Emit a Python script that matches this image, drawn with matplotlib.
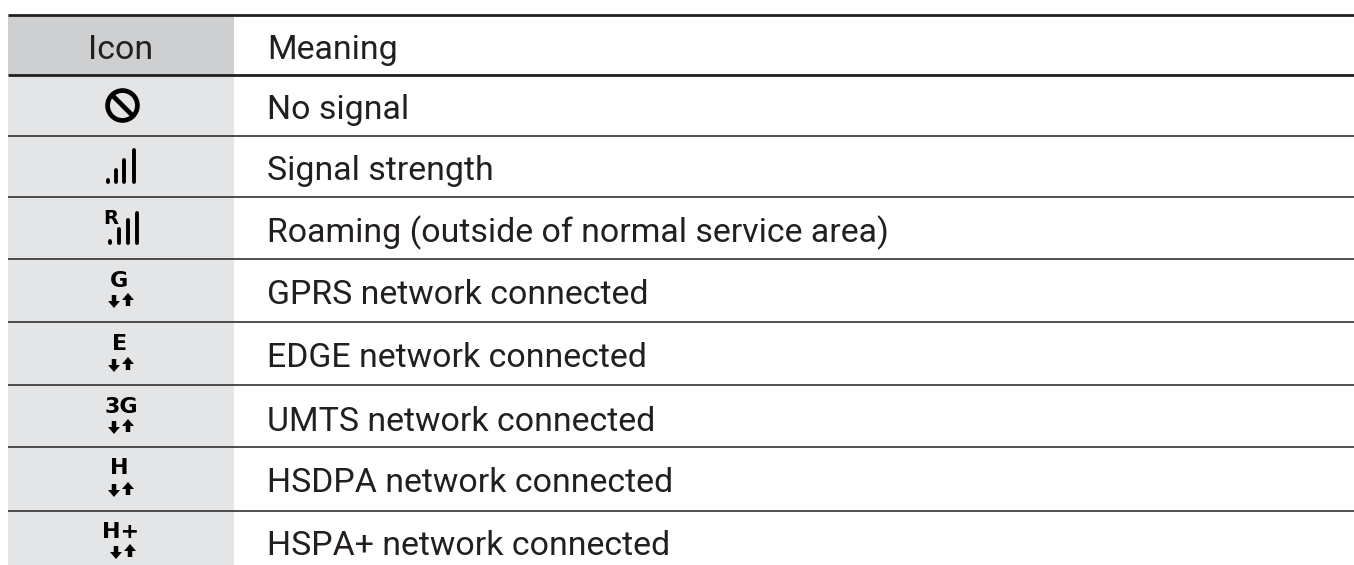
import matplotlib
matplotlib.use("Agg")
import matplotlib.pyplot as plt
from matplotlib.patches import Rectangle

W, H = 1354, 565
LEFT, SPLIT = 8, 234
INK = "#231f20"

header = ["Icon", "Meaning"]
meanings = [
    "No signal",
    "Signal strength",
    "Roaming (outside of normal service area)",
    "GPRS network connected",
    "EDGE network connected",
    "UMTS network connected",
    "HSDPA network connected",
    "HSPA+ network connected",
]
icon_letters = ["G", "E", "3G", "H", "H+"]

row_lines = [75, 136, 197, 259, 322, 385, 447, 511]
baselines = [119, 180, 242, 304, 367, 431, 492, 555]

fig = plt.figure(figsize=(W / 100, H / 100), dpi=100)
ax = fig.add_axes([0, 0, 1, 1])
ax.set_xlim(0, W)
ax.set_ylim(H, 0)
ax.axis("off")

# cell backgrounds
ax.add_patch(Rectangle((LEFT, 15), SPLIT - LEFT, 60, color="#cdcfd1", lw=0))
ax.add_patch(Rectangle((LEFT, 75), SPLIT - LEFT, H - 75, color="#e4e5e7", lw=0))

# rules
ax.plot([LEFT, W], [15, 15], color=INK, lw=2, solid_capstyle="butt")
for i, y in enumerate(row_lines):
    ax.plot([LEFT, W], [y, y], color=INK, lw=2 if i == 0 else 1.1, solid_capstyle="butt")

# text
font = "Roboto"
size = 24.4
ax.text(121, 59, header[0], ha="center", va="baseline", fontsize=size, family=font, color=INK)
ax.text(267, 59, header[1], ha="left", va="baseline", fontsize=size, family=font, color=INK)
for m, y in zip(meanings, baselines):
    ax.text(267, y, m, ha="left", va="baseline", fontsize=size, family=font, color=INK)


def bars(xs, tops, bottom):
    for x, t in zip(xs, tops):
        ax.plot([x, x], [t, bottom], color="black", lw=2.8, solid_capstyle="round")


# no signal icon
ax.plot([122], [105], "o", ms=21.5, mfc="none", mec="black", mew=3.4)
ax.plot([112, 132], [95, 115], color="black", lw=3.4, solid_capstyle="butt")

# signal icons
bars([108, 116, 124, 134], [180, 170, 160, 150], 182)
ax.text(111, 219, "R", ha="center", va="center", fontsize=14, family="DejaVu Sans", weight="bold", color="black")
bars([110, 119, 128, 137], [241, 229, 220, 213], 243)

# network icons with up and down arrows
letter_y = [281, 344, 407, 468, 532]
arrow_top = [295, 359, 421, 484, 546]
letter_x = [119, 120, 121, 119, 121]
arrow_x = [114, 114, 114, 114, 116]
for s, lx, ly, ax_x, top in zip(icon_letters, letter_x, letter_y, arrow_x, arrow_top):
    ax.text(lx, ly, s, ha="center", va="center", fontsize=16, family="DejaVu Sans", weight="bold", color="black")
    ax.arrow(ax_x, top, 0, 13, width=4.5, head_width=12, head_length=7, length_includes_head=True, color="black", lw=0)
    ax.arrow(ax_x + 14, top + 11, 0, -13, width=4.5, head_width=12, head_length=7, length_includes_head=True, color="black", lw=0)

fig.savefig("out.png", dpi=100)
